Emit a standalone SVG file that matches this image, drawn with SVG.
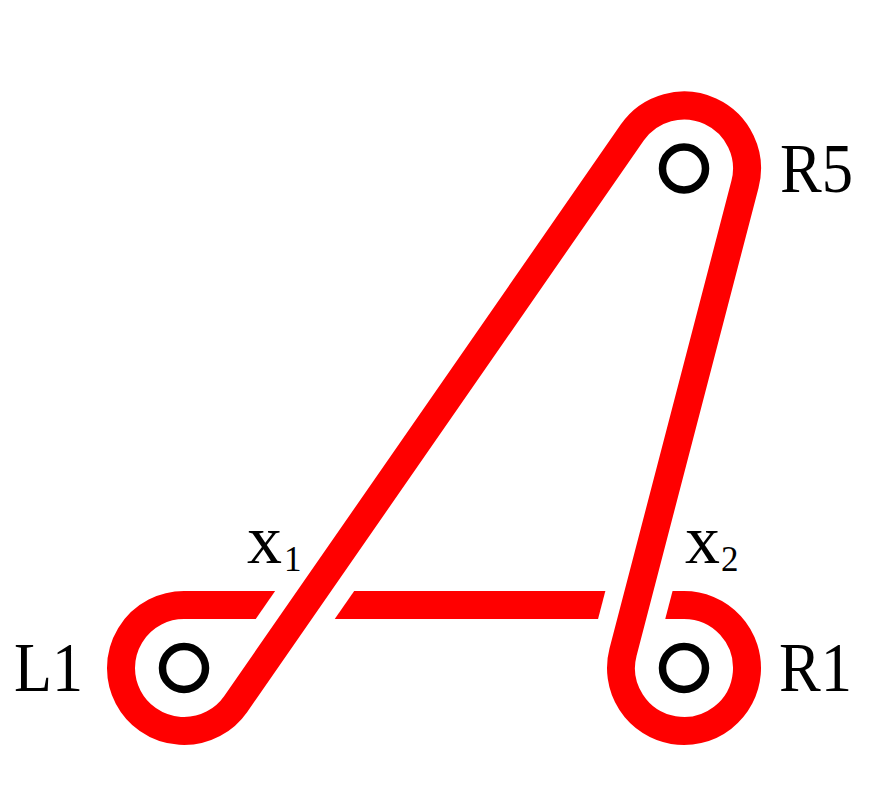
<svg xmlns="http://www.w3.org/2000/svg" width="870" height="810" viewBox="0 0 870 810">
<style>
.band{fill:none;stroke:#ff0000;stroke-width:28;stroke-linecap:butt}
.gap{fill:none;stroke:#ffffff;stroke-width:65;stroke-linecap:butt}
.ring{fill:none;stroke:#000000;stroke-width:7.5}
.lbl{font-family:"Liberation Serif","Times New Roman",serif;font-size:70px;fill:#000000}
.sub{font-size:35px}
</style>
<rect width="870" height="810" fill="#ffffff"/>
<g id="connectors">
<path id="under" class="band" d="M184,605 L684,605"/>
<path class="gap" d="M280.45,640.3 L328.35,571.3"/>
<path class="gap" d="M641.9,579.8 L628.7,630.2"/>
<path id="over" class="band" d="M184,605 A63,63 0 1 0 235.76,703.92 L632.24,132.58 A63,63 0 0 1 744.96,184.39 L623.04,652.11 A63,63 0 1 0 684,605"/>
</g>
<g id="L1"><circle class="ring" cx="184" cy="668" r="21.5"/><text class="lbl" x="14" y="691" textLength="69" lengthAdjust="spacingAndGlyphs">L1</text></g>
<g id="R1"><circle class="ring" cx="684" cy="668" r="21.5"/><text class="lbl" x="779" y="691" textLength="73" lengthAdjust="spacingAndGlyphs">R1</text></g>
<g id="R5"><circle class="ring" cx="684" cy="168.5" r="21.5"/><text class="lbl" x="780" y="191.7" textLength="73" lengthAdjust="spacingAndGlyphs">R5</text></g>
<g id="x1"><text class="lbl" x="247" y="562.7">x<tspan class="sub" x="284" y="570.7">1</tspan></text></g>
<g id="x2"><text class="lbl" x="685" y="562.7">x<tspan class="sub" x="721" y="570.7">2</tspan></text></g>
</svg>
